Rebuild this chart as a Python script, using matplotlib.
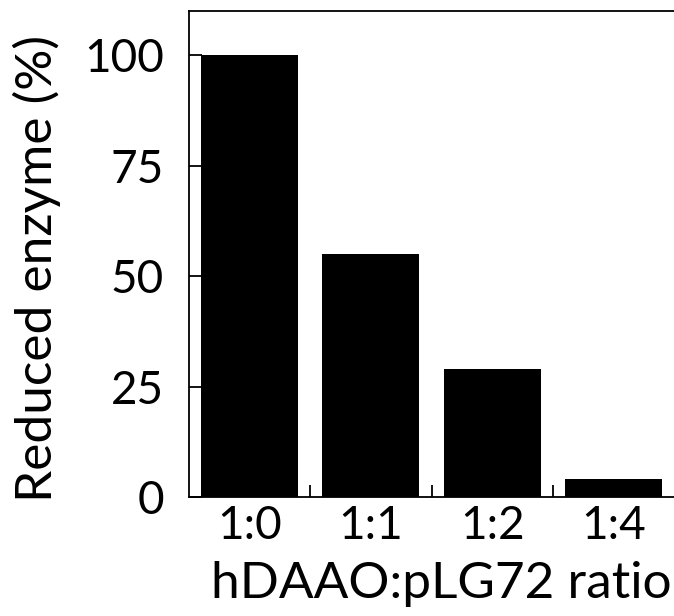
import matplotlib
matplotlib.use("Agg")
from matplotlib import pyplot as plt

ratios = ["1:0", "1:1", "1:2", "1:4"]
reduced_enzyme = [100, 55, 29, 4]
y_ticks = [0, 25, 50, 75, 100]

plt.rcParams['font.family'] = ['Lato', 'DejaVu Sans']

fig = plt.figure(figsize=(6.74, 6.16), dpi=100)
# axes box measured in pixels off the reference
ax = fig.add_axes([189 / 674, (616 - 497) / 616, (674 - 189) / 674, (497 - 11) / 616])

x = range(len(ratios))
ax.bar(x, reduced_enzyme, width=0.8, color='black')

ax.set_xlim(-0.5, len(ratios) - 0.5)
ax.set_ylim(0, 110)

ax.set_xticks(list(x))
ax.set_xticklabels(ratios)
ax.set_xticks([i + 0.5 for i in range(len(ratios) - 1)], minor=True)
ax.tick_params(axis='x', which='major', length=0, labelsize=33, pad=6)
ax.tick_params(axis='x', which='minor', direction='in', length=9, width=1.3)

ax.set_yticks(y_ticks)
ax.tick_params(axis='y', direction='in', length=9, width=1.3, labelsize=33, pad=18)

for side in ['left', 'bottom', 'top']:
    ax.spines[side].set_linewidth(1.3)
ax.spines['right'].set_visible(False)

# labels sit a little off-centre in the original
ax.set_xlabel("hDAAO:pLG72 ratio", fontsize=37, labelpad=10, x=0.52)
ax.set_ylabel("Reduced enzyme (%)", fontsize=37, labelpad=17, y=0.47)

fig.savefig("out.png", dpi=100)
